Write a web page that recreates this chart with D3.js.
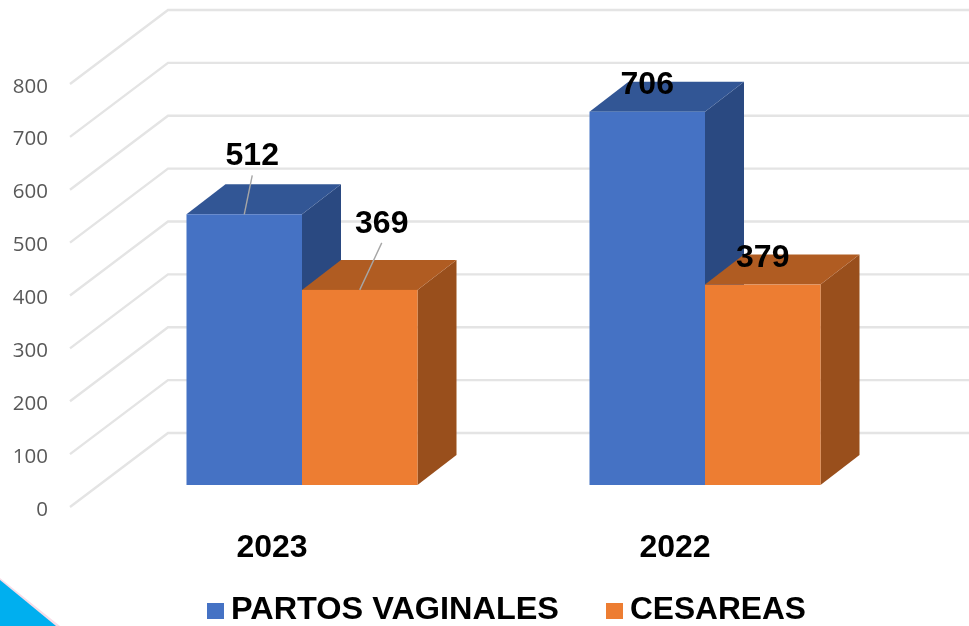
<!DOCTYPE html>
<html><head><meta charset="utf-8">
<script src="https://cdnjs.cloudflare.com/ajax/libs/d3/7.8.5/d3.min.js"></script>
<style>html,body{margin:0;padding:0;background:#fff;overflow:hidden}svg{display:block}</style>
</head><body><svg id="c" width="969" height="626"></svg>
<script>
const categories = ["2023","2022"];
const seriesNames = ["PARTOS VAGINALES","CESAREAS"];
const partosVaginales = [512,706];
const cesareas = [369,379];
const tickValues = [0,100,200,300,400,500,600,700,800];

const colors = {
  "PARTOS VAGINALES":{front:"#4472C4",top:"#335695",side:"#2B4A81"},
  "CESAREAS":{front:"#ED7D31",top:"#B05C22",side:"#994F1D"}
};
const W=969,H=626;
const svg=d3.select("#c").attr("viewBox",[0,0,W,H]);
const defs=svg.append("defs");
defs.append("filter").attr("id","soft").attr("x","-5%").attr("y","-5%").attr("width","110%").attr("height","110%")
  .append("feGaussianBlur").attr("stdDeviation",0.5);

const y=d3.scaleLinear().domain([0,800]).range([485,62]);
const x=d3.scaleBand().domain(categories).range([100.5,906.5]);
const xs=d3.scaleBand().domain(seriesNames).range([-115.5,115.5]);
const depth={dx:39,dy:-30};
const wall={frontX:70,frontDy:22,backX:168,backDy:-52};
const valueOf={"PARTOS VAGINALES":partosVaginales,"CESAREAS":cesareas};
const labelPlacement={ "2023|PARTOS VAGINALES":{dx:8,base:-49,lead:[8,-39]},
  "2023|CESAREAS":{dx:22,base:-57,lead:[22,-47]},
  "2022|PARTOS VAGINALES":{dx:0,base:-18},
  "2022|CESAREAS":{dx:0,base:-18} };

const root=svg.append("g").attr("filter","url(#soft)");

// corner decoration
root.append("path").attr("d","M0,578L60,626L0,626Z").attr("fill","#F7DDE8");
root.append("path").attr("d","M0,580L56,626L0,626Z").attr("fill","#04AFEF");

// gridlines
root.append("g").selectAll("path").data(tickValues).join("path")
  .attr("fill","none").attr("stroke","#E4E4E4").attr("stroke-width",2.4)
  .attr("d",d=>d3.line()([[wall.frontX,y(d)+wall.frontDy],[wall.backX,y(d)+wall.backDy],[W,y(d)+wall.backDy]]));

// axis
const axis=d3.axisLeft(y).tickValues(tickValues).tickSize(0).tickPadding(0).tickFormat(d3.format("d"));
const ag=root.append("g").attr("transform",`translate(48,${wall.frontDy+1.5})`).call(axis);
ag.select(".domain").remove();
ag.selectAll("text").attr("font-family","'Open Sans',sans-serif").attr("font-size",20.5).attr("fill","#595959").attr("dy","0.32em");

// bars
const bars=categories.flatMap((c,i)=>seriesNames.map(s=>({c,s,v:valueOf[s][i]})));
const bg=root.append("g").selectAll("g").data(bars).join("g");
const L=d=>x(d.c)+x.bandwidth()/2+xs(d.s), R=d=>L(d)+xs.bandwidth();
bg.append("path").attr("fill",d=>colors[d.s].side)
  .attr("d",d=>`M${R(d)},${y(0)}L${R(d)+depth.dx},${y(0)+depth.dy}L${R(d)+depth.dx},${y(d.v)+depth.dy}L${R(d)},${y(d.v)}Z`);
bg.append("path").attr("fill",d=>colors[d.s].top)
  .attr("d",d=>`M${L(d)},${y(d.v)}L${L(d)+depth.dx},${y(d.v)+depth.dy}L${R(d)+depth.dx},${y(d.v)+depth.dy}L${R(d)},${y(d.v)}Z`);
bg.append("rect").attr("fill",d=>colors[d.s].front)
  .attr("x",L).attr("width",xs.bandwidth()).attr("y",d=>y(d.v)).attr("height",d=>y(0)-y(d.v));

// leader lines
const mid=d=>L(d)+xs.bandwidth()/2;
const place=d=>labelPlacement[d.c+"|"+d.s];
root.append("g").selectAll("line").data(bars.filter(d=>place(d).lead)).join("line")
  .attr("stroke","#A6A6A6").attr("stroke-width",1.4)
  .attr("x1",mid).attr("y1",d=>y(d.v))
  .attr("x2",d=>mid(d)+place(d).lead[0]).attr("y2",d=>y(d.v)+place(d).lead[1]);

const bold="'Liberation Sans',Arial,sans-serif";
// data labels
root.append("g").selectAll("text").data(bars).join("text")
  .attr("x",d=>mid(d)+place(d).dx).attr("y",d=>y(d.v)+place(d).base)
  .attr("text-anchor","middle").attr("font-family",bold).attr("font-weight",700).attr("font-size",32).attr("fill","#000")
  .text(d=>d.v);

// category labels
root.append("g").selectAll("text").data(categories).join("text")
  .attr("x",d=>x(d)+x.bandwidth()/2-30).attr("y",557)
  .attr("text-anchor","middle").attr("font-family",bold).attr("font-weight",700).attr("font-size",32).attr("fill","#000")
  .text(d=>d);

// legend
const legendX=d3.scaleOrdinal().domain(seriesNames).range([207,606]);
const legendLen=d3.scaleOrdinal().domain(seriesNames).range([328,176]);
const lg=root.append("g").selectAll("g").data(seriesNames).join("g").attr("transform",d=>`translate(${legendX(d)},603)`);
lg.append("rect").attr("width",17).attr("height",16).attr("fill",d=>colors[d].front);
lg.append("text").attr("x",24).attr("y",16).attr("font-family",bold).attr("font-weight",700).attr("font-size",31).attr("fill","#000")
  .attr("textLength",d=>legendLen(d)).attr("lengthAdjust","spacingAndGlyphs").text(d=>d);
</script></body></html>
